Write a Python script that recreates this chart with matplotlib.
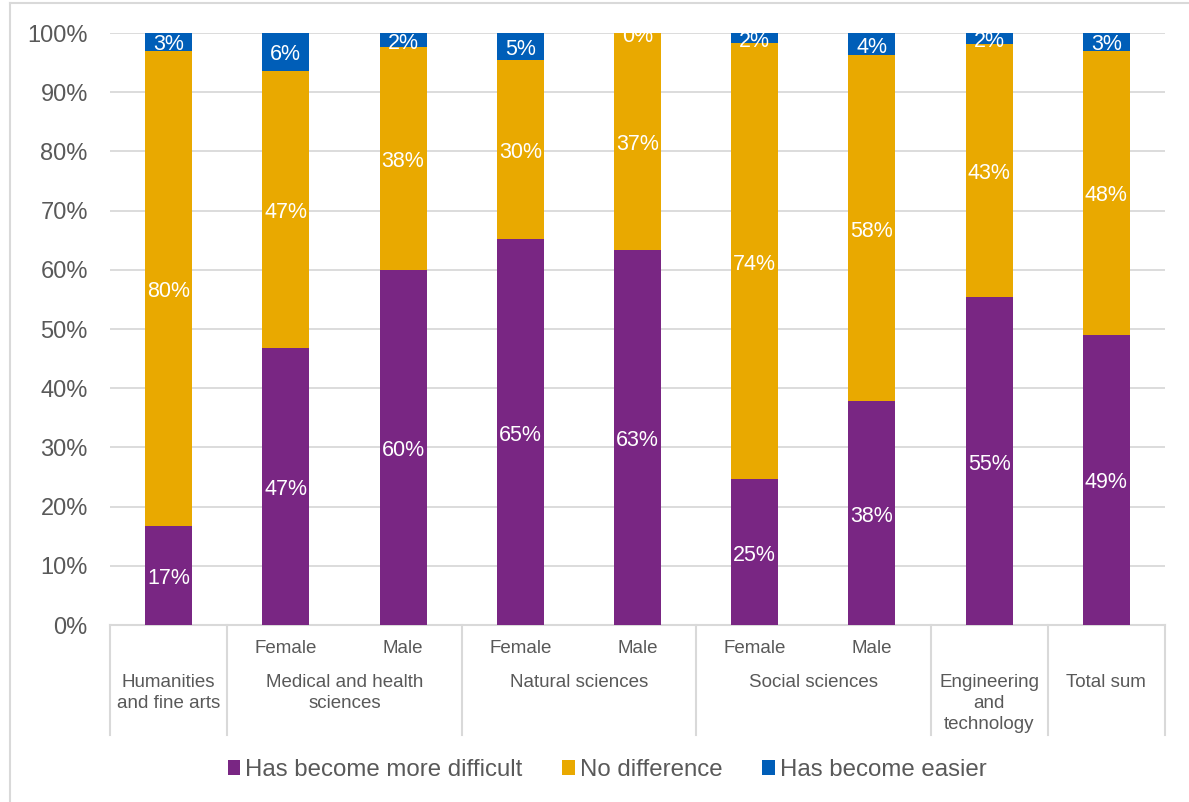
import matplotlib
matplotlib.use("Agg")
import matplotlib.pyplot as plt
import matplotlib.transforms as mtransforms
from matplotlib.patches import Patch
from matplotlib.lines import Line2D

plt.rcParams['font.family'] = ['Liberation Sans', 'DejaVu Sans']

# survey shares (percent) per bar
sub_labels = ["", "Female", "Male", "Female", "Male", "Female", "Male", "", ""]
groups = [
    ("Humanities\nand fine arts", 0, 0),
    ("Medical and health\nsciences", 1, 2),
    ("Natural sciences", 3, 4),
    ("Social sciences", 5, 6),
    ("Engineering\nand\ntechnology", 7, 7),
    ("Total sum", 8, 8),
]
more_difficult = [16.7, 46.8, 60.0, 65.2, 63.3, 24.6, 37.8, 55.4, 49.0]
no_difference = [80.3, 46.8, 37.6, 30.2, 36.7, 73.7, 58.4, 42.8, 48.0]
easier = [3.0, 6.4, 2.4, 4.6, 0.0, 1.7, 3.8, 1.8, 3.0]

series = [
    ("Has become more difficult", more_difficult, "#792683"),
    ("No difference", no_difference, "#E9A900"),
    ("Has become easier", easier, "#005EB8"),
]

W, H = 1189, 802
fig = plt.figure(figsize=(W / 100, H / 100), dpi=100)
ax = fig.add_axes([110 / W, 1 - 625 / H, 1055 / W, 592 / H])

grid_col = "#D9D9D9"
text_col = "#595959"

# value labels sit a few pixels lower than the plain centre
lab_tr = mtransforms.offset_copy(ax.transData, fig=fig, x=0, y=-3, units="dots")

x = list(range(len(more_difficult)))
bottom = [0.0] * len(x)
for name, vals, col in series:
    ax.bar(x, vals, width=0.40, bottom=bottom, color=col, zorder=3)
    for xi, b, v in zip(x, bottom, vals):
        ax.text(xi, b + v / 2, f"{v:.0f}%", ha="center", va="center",
                color="white", fontsize=15.5, zorder=4, clip_on=True,
                transform=lab_tr)
    bottom = [b + v for b, v in zip(bottom, vals)]

ax.set_xlim(-0.5, len(x) - 0.5)
ax.set_ylim(0, 100)
ax.set_yticks(range(0, 101, 10))
ax.set_yticklabels([f"{t}%" for t in range(0, 101, 10)])
ax.tick_params(axis="y", length=0, pad=16, labelsize=17, labelcolor=text_col)
ax.set_xticks([])
for t in range(10, 101, 10):
    ax.axhline(t, color=grid_col, lw=1.3, zorder=1)
for s in ax.spines.values():
    s.set_visible(False)

# multi-level category axis drawn below the plot
tr = ax.get_xaxis_transform()
depth = -(735 - 625) / 592
ax.plot([-0.5, len(x) - 0.5], [0, 0], transform=tr, color=grid_col,
        lw=1.5, clip_on=False)
for bx in [-0.5, 0.5, 2.5, 4.5, 6.5, 7.5, 8.5]:
    ax.plot([bx, bx], [0, depth], transform=tr, color=grid_col,
            lw=1.5, clip_on=False)
for xi, lab in zip(x, sub_labels):
    if lab:
        ax.text(xi, -(640 - 625) / 592, lab, transform=tr, ha="center",
                va="top", fontsize=13.5, color=text_col)
for name, a, b in groups:
    ax.text((a + b) / 2, -(674 - 625) / 592, name, transform=tr,
            ha="center", va="top", fontsize=13.5, color=text_col,
            linespacing=1.3, multialignment="center")

handles = [Patch(facecolor=col, edgecolor="none") for _, _, col in series]
fig.legend(handles, [s[0] for s in series], loc="center",
           bbox_to_anchor=(607 / W, 1 - 770 / H), ncol=3, frameon=False,
           fontsize=17.3, handlelength=0.53, handleheight=0.53,
           handletextpad=0.2, columnspacing=1.65, labelcolor=text_col)

# outer chart frame
fig.add_artist(Line2D([10 / W, 10 / W], [0, 1 - 3 / H], color=grid_col, lw=1.5))
fig.add_artist(Line2D([10 / W, 1], [1 - 3 / H, 1 - 3 / H], color=grid_col, lw=1.5))

fig.savefig("out.png", dpi=100)
